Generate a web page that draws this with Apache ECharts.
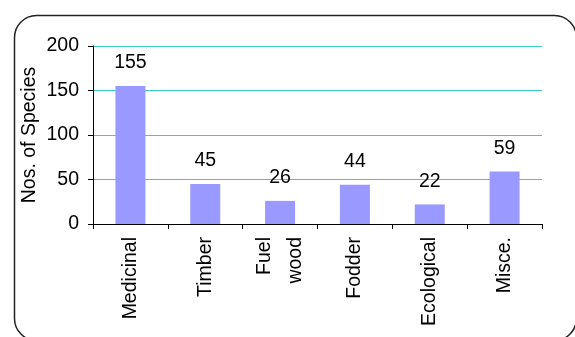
<!DOCTYPE html>
<html><head><meta charset="utf-8">
<script src="https://cdn.jsdelivr.net/npm/echarts@6/dist/echarts.min.js"></script>
<style>html,body{margin:0;padding:0;background:#fff}#c{width:575px;height:337px}</style>
</head><body><div id="c"></div>
<script>
const categories = ['Medicinal', 'Timber', 'Fuel\nwood', 'Fodder', 'Ecological', 'Misce.'];
const species = [155, 45, 26, 44, 22, 59];
const yTicks = [0, 50, 100, 150, 200];

const chart = echarts.init(document.getElementById('c'));
chart.setOption({
  animation: false,
  textStyle: { fontFamily: 'Liberation Sans, Arial, sans-serif' },
  graphic: [{
    type: 'rect', left: 12, top: 13, z: -1,
    shape: { width: 562, height: 325, r: 22 },
    style: { fill: 'none', stroke: '#222', lineWidth: 1.5 }
  }],
  grid: { left: 93, right: 33, top: 46, bottom: 113 },
  xAxis: {
    type: 'category', data: categories,
    axisLine: { lineStyle: { color: '#000', width: 1 } },
    axisTick: { show: true, length: 5, alignWithLabel: false, lineStyle: { color: '#000' } },
    axisLabel: { rotate: 90, margin: 13, fontSize: 19.5, color: '#000', lineHeight: 31, interval: 0 }
  },
  yAxis: {
    type: 'value', min: yTicks[0], max: yTicks[yTicks.length - 1], interval: 50,
    name: 'Nos. of Species', nameLocation: 'middle', nameGap: 53, nameRotate: 90,
    nameMoveOverlap: false,
    nameTextStyle: { fontSize: 19.5, color: '#000' },
    axisLine: { show: true, lineStyle: { color: '#000', width: 1 } },
    axisTick: { show: true, length: 5, lineStyle: { color: '#000' } },
    axisLabel: { fontSize: 19.5, color: '#000', margin: 14 },
    splitLine: { lineStyle: { color: '#38cccc', width: 1 } }
  },
  series: [{
    type: 'bar', data: species, barWidth: 30,
    itemStyle: { color: '#9999ff' },
    label: { show: true, position: 'top', distance: 13, fontSize: 19.5, color: '#000' }
  }]
});
</script></body></html>
